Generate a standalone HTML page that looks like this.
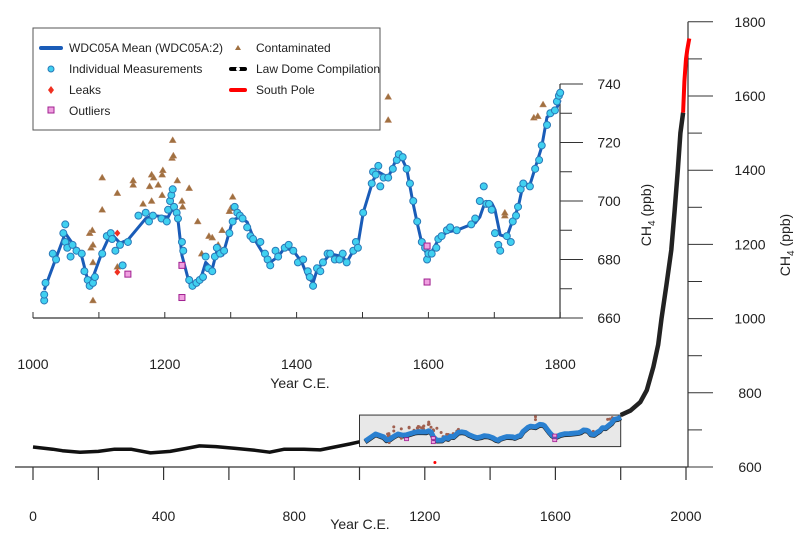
<!DOCTYPE html>
<html><head><meta charset="utf-8"><style>
body{margin:0;background:#fff}
svg{display:block;font-family:"Liberation Sans",sans-serif}
</style></head><body>
<svg id="c" width="800" height="552" viewBox="0 0 800 552">
<g id="legend">
<rect x="33" y="28" width="347" height="102" fill="#fff" stroke="#555" stroke-width="1"/>
<line x1="41" y1="48" x2="61" y2="48" stroke="#1a5cb8" stroke-width="4" stroke-linecap="round"/>
<text x="69" y="52" font-size="12" fill="#222">WDC05A Mean (WDC05A:2)</text>
<circle cx="51" cy="69" r="3" fill="#40d0f0" stroke="#2a7ab8"/>
<text x="69" y="73" font-size="12" fill="#222">Individual Measurements</text>
<path d="M51 86 L54 90 L51 94 L48 90Z" fill="#f03020"/>
<text x="69" y="94" font-size="12" fill="#222">Leaks</text>
<rect x="48" y="107" width="6" height="6" fill="#f0a0e0" stroke="#a02090"/>
<text x="69" y="115" font-size="12" fill="#222">Outliers</text>
<path d="M238 45 L241 50 L235 50Z" fill="#a07040"/>
<text x="256" y="52" font-size="12" fill="#222">Contaminated</text>
<line x1="231" y1="69" x2="245" y2="69" stroke="#000" stroke-width="4" stroke-linecap="round"/>
<circle cx="238" cy="69" r="2" fill="#fff"/>
<text x="256" y="73" font-size="12" fill="#222">Law Dome Compilation</text>
<line x1="231" y1="90" x2="245" y2="90" stroke="#f00" stroke-width="4" stroke-linecap="round"/>
<text x="256" y="94" font-size="12" fill="#222">South Pole</text>
</g>
</svg>
<script>
// Inset (WDC05A) data
const meanYears=[1017,1049,1074,1083,1091,1105,1118,1132,1144,1171,1182,1205,1212,1220,1226,1237,1253,1262,1272,1279,1288,1303,1314,1325,1334,1352,1360,1372,1382,1395,1408,1417,1425,1431,1440,1451,1470,1476,1486,1493,1501,1516,1524,1539,1552,1561,1567,1577,1583,1590,1598,1605,1615,1628,1643,1671,1678,1686,1696,1701,1709,1719,1728,1736,1744,1754,1762,1772,1780,1792,1800];
const meanPpb=[669.6,689,681,673,674,682.6,689,685.6,686.7,694,695,694.5,697.6,693.5,681.5,672,672.3,679,676.7,683,681.5,693.5,694.5,692.8,687.7,681,679,681,684,683,679,674,672,676.4,679,681.9,681,679,683,685,696,707,710,708,714.7,714,711,699,692.5,685.6,681.5,682.6,686.7,689.4,690,692.5,694.5,699.7,699.3,697,688.4,687.7,693.5,697.6,706,705.5,711.3,718.5,728.7,730.4,734.5];
const measYears=[1017,1017,1019,1030,1035,1046,1049,1049,1052,1057,1060,1066,1074,1078,1083,1086,1091,1094,1105,1112,1118,1120,1125,1132,1136,1144,1160,1171,1176,1182,1195,1203,1205,1208,1210,1212,1214,1218,1220,1226,1228,1237,1242,1248,1253,1258,1262,1266,1272,1276,1279,1284,1290,1298,1303,1306,1310,1314,1318,1325,1330,1334,1345,1352,1356,1360,1368,1372,1382,1388,1395,1402,1410,1417,1420,1425,1431,1436,1440,1447,1451,1458,1465,1470,1476,1486,1490,1493,1501,1514,1516,1520,1524,1527,1532,1539,1546,1552,1555,1561,1567,1572,1577,1583,1590,1595,1598,1600,1605,1612,1615,1620,1628,1633,1643,1665,1671,1678,1684,1688,1692,1696,1701,1706,1709,1719,1725,1728,1733,1736,1740,1744,1754,1762,1768,1772,1780,1785,1792,1795,1798,1800];
const measPpb=[666,668,672,682,680,689,692,686,684,681,685,683,682,676,673,671,672,674,682,688,689,687,683,685,678,686,695,696,693,695,694,693,697,700,702,704,698,696,694,686,683,673,671,672,673,674,681,677,676,681,684,682,683,689,693,698,696,695,694,691,688,687,686,682,680,678,683,681,684,685,683,679,680,676,674,671,677,676,679,682,682,680,680,682,679,683,686,684,696,706,710,709,712,705,708,708,711,714,716,715,711,706,700,693,686,684,680,682,682,684,687,688,690,691,690,692,694,700,705,699,699,697,689,685,683,688,686,693,695,698,704,706,705,711,714,719,726,730,731,734,736,737];
const contYears=[1212,1211,1213,1196,1197,1180,1183,1152,1152,1177,1190,1105,1128,1105,1180,1167,1196,1219,1237,1226,1227,1086,1090,1088,1091,1091,1091,1128,1250,1267,1272,1287,1256,1281,1303,1300,1298,1539,1539,1760,1766,1774,1716,1716];
const contPpb=[720.8,714.7,715.5,709,710.5,709,708,705.5,707,705,705.5,708,702.7,697,700,699,702,707,704.4,700,698,689,690,684,685,679,666,677.5,693,688,687.5,690,682,685,701.4,697.5,696.5,735.6,727.7,728.5,729,733,695,696];
const leakYears=[1128,1128];
const leakPpb=[689,675.7];
const outYears=[1144,1226,1226,1598,1598];
const outPpb=[675,678,667,684.6,672.3];
// Main (long record) data
const ldYears=[0,60,90,144,200,250,300,360,420,470,510,560,620,680,725,770,830,880,970,1000];
const ldPpb=[654,648,644,640,642,648,648,638,642,650,657,655,650,645,640,648,648,646,662,668];
const ldModYears=[1800,1830,1860,1880,1900,1915,1925,1940,1955,1965,1975,1983,1991];
const ldModPpb=[740,752,775,807,870,930,1000,1090,1185,1290,1400,1500,1555];
const spYears=[1991,1995,2000,2004,2008,2010];
const spPpb=[1555,1640,1700,1725,1745,1755];
const insetXTicks=[1000,1200,1400,1600,1800];
const insetYTicks=[660,680,700,720,740];
const mainXTicks=[0,400,800,1200,1600,2000];
const mainYTicks=[600,800,1000,1200,1400,1600,1800];

const NS='http://www.w3.org/2000/svg';
const svg=document.getElementById('c');
function mk(tag,attrs,parent){const e=document.createElementNS(NS,tag);for(const k in attrs)e.setAttribute(k,attrs[k]);(parent||svg).insertBefore(e,document.getElementById('legend'));return e;}
// axis functions
const ix=y=>33+(y-1000)*0.659, iy=v=>318-(v-660)*2.925;
const mx=y=>33+y*0.3265, my=v=>467-(v-600)*0.371;

// ---- main chart ----
let e=mk('rect',{x:mx(1000),y:my(740),width:mx(1800)-mx(1000),height:my(655)-my(740),fill:'#e8e8e8',stroke:'#333','stroke-width':1});

e=mk('line',{x1:15,y1:467,x2:mx(2000)+2,y2:467,stroke:'#333','stroke-width':1.2});

for(let t=0;t<=2000;t+=200){e=mk('line',{x1:mx(t),y1:467,x2:mx(t),y2:480,stroke:'#333','stroke-width':1.2});}
mainXTicks.forEach(t=>{e=mk('text',{x:mx(t),y:521,'font-size':14,'text-anchor':'middle',fill:'#222'});e.textContent=t;});
e=mk('text',{x:360,y:529,'font-size':14,'text-anchor':'middle',fill:'#222'});e.textContent='Year C.E.';
e=mk('line',{x1:688,y1:my(1800),x2:688,y2:467,stroke:'#333','stroke-width':1.2});
for(let v=600;v<=1800;v+=100){const maj=v%200==0;e=mk('line',{x1:688,y1:my(v),x2:maj?713:702,y2:my(v),stroke:'#333','stroke-width':1});}
mainYTicks.forEach(v=>{e=mk('text',{x:750,y:my(v)+5,'font-size':14,'text-anchor':'middle',fill:'#222'});e.textContent=v;});
e=mk('text',{x:0,y:0,'font-size':14,'text-anchor':'middle',fill:'#222',transform:'translate(790,245) rotate(-90)'});e.innerHTML='CH<tspan font-size="10" dy="4">4</tspan><tspan dy="-4"> (ppb)</tspan>';

function pathOf(xs,ys,fx,fy){return xs.map((x,i)=>(i?'L':'M')+fx(x).toFixed(1)+' '+fy(ys[i]).toFixed(1)).join(' ');}
e=mk('path',{d:pathOf(ldYears,ldPpb,mx,my),fill:'none',stroke:'#111','stroke-width':3.5,'stroke-linejoin':'round'});
e=mk('path',{d:pathOf(meanYears,meanPpb.map(v=>v-2),mx,my),fill:'none',stroke:'#222','stroke-width':5,'stroke-linejoin':'round'});
e=mk('path',{d:pathOf(ldModYears,ldModPpb,mx,my),fill:'none',stroke:'#222','stroke-width':4.5,'stroke-linejoin':'round'});
e=mk('path',{d:pathOf(spYears,spPpb,mx,my),fill:'none',stroke:'#f00','stroke-width':4});
contYears.forEach((y,i)=>{e=mk('circle',{cx:mx(y),cy:my(contPpb[i]),r:1.5,fill:'#a06050'});});
e=mk('path',{d:pathOf(meanYears,meanPpb,mx,my),fill:'none',stroke:'#2a80d0','stroke-width':5,'stroke-linejoin':'round'});
e=mk('circle',{cx:mx(1231),cy:my(612),r:1.5,fill:'#f00'});
outYears.forEach((y,i)=>{e=mk('rect',{x:mx(y)-2,y:my(outPpb[i])-1.5,width:4,height:3,fill:'#f0a0e0',stroke:'#a02090','stroke-width':0.8});});

// ---- inset ----
e=mk('line',{x1:33,y1:318,x2:560,y2:318,stroke:'#333','stroke-width':1.2});
for(let t=1000;t<=1800;t+=100){e=mk('line',{x1:ix(t),y1:318,x2:ix(t),y2:312,stroke:'#333','stroke-width':1});}
insetXTicks.forEach(t=>{e=mk('text',{x:ix(t),y:369,'font-size':14,'text-anchor':'middle',fill:'#222'});e.textContent=t;});
e=mk('text',{x:300,y:388,'font-size':14,'text-anchor':'middle',fill:'#222'});e.textContent='Year C.E.';
e=mk('line',{x1:560,y1:iy(740),x2:560,y2:318,stroke:'#333','stroke-width':1.2});
for(let v=660;v<=740;v+=10){const maj=v%20==0;e=mk('line',{x1:560,y1:iy(v),x2:maj?583:572,y2:iy(v),stroke:'#333','stroke-width':1});}
insetYTicks.forEach(v=>{e=mk('text',{x:609,y:iy(v)+5,'font-size':14,'text-anchor':'middle',fill:'#222'});e.textContent=v;});
e=mk('text',{x:0,y:0,'font-size':14,'text-anchor':'middle',fill:'#222',transform:'translate(651,215) rotate(-90)'});e.innerHTML='CH<tspan font-size="10" dy="4">4</tspan><tspan dy="-4"> (ppb)</tspan>';

contYears.forEach((y,i)=>{const x=ix(y),yy=iy(contPpb[i]);e=mk('path',{d:`M${x} ${yy-3.5} L${x+3.5} ${yy+2.5} L${x-3.5} ${yy+2.5}Z`,fill:'#a07040',stroke:'#c09070','stroke-width':0.5});});
e=mk('path',{d:pathOf(meanYears,meanPpb,ix,iy),fill:'none',stroke:'#1a5cb8','stroke-width':3,'stroke-linejoin':'round'});
measYears.forEach((y,i)=>{e=mk('circle',{cx:ix(y),cy:iy(measPpb[i]),r:3.5,fill:'#40d0f0',stroke:'#2a7ab8','stroke-width':1});});
leakYears.forEach((y,i)=>{const x=ix(y),yy=iy(leakPpb[i]);e=mk('path',{d:`M${x} ${yy-3.5} L${x+3} ${yy} L${x} ${yy+3.5} L${x-3} ${yy}Z`,fill:'#f03020'});});
outYears.forEach((y,i)=>{e=mk('rect',{x:ix(y)-3,y:iy(outPpb[i])-3,width:6,height:6,fill:'#f0a0e0',stroke:'#a02090','stroke-width':1});});
</script>
</body></html>
